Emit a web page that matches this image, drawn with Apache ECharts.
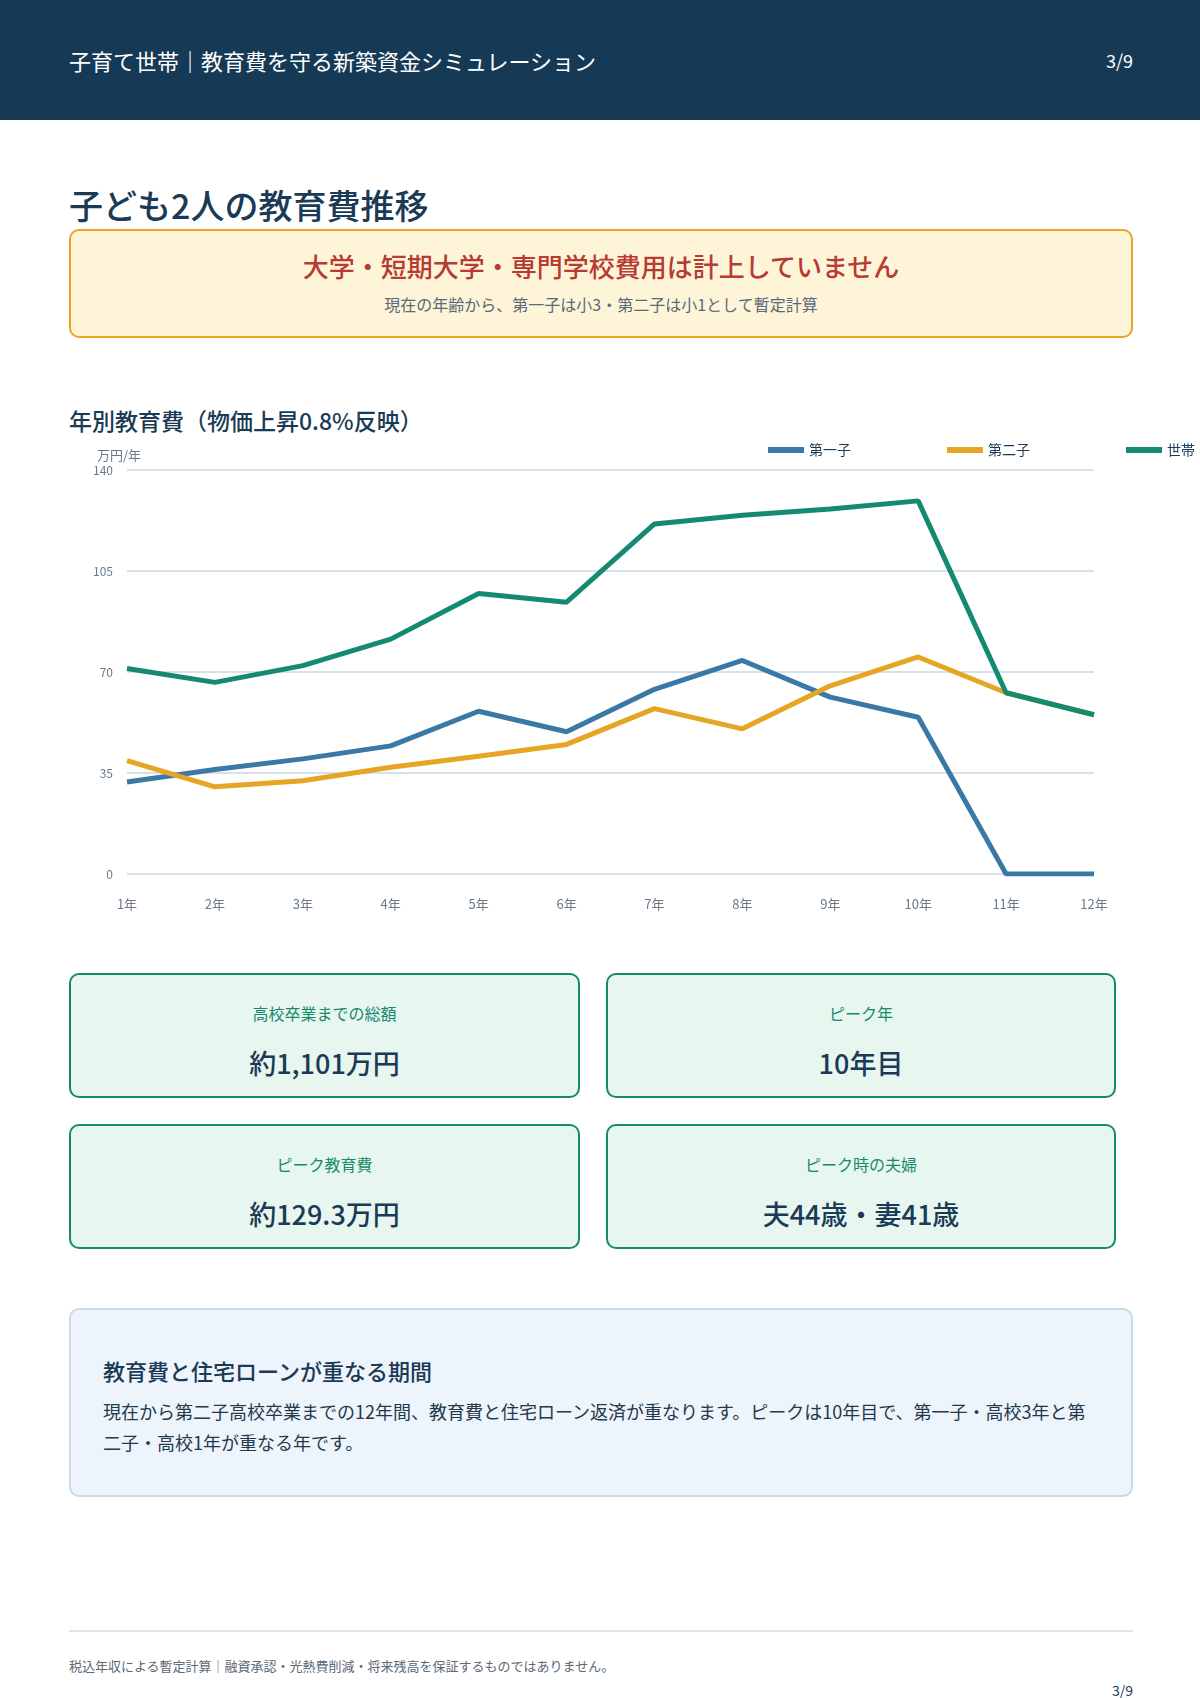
<!DOCTYPE html>
<html><head><meta charset="utf-8">
<script src="https://cdn.jsdelivr.net/npm/echarts@6/dist/echarts.min.js"></script>
<style>
body{margin:0;width:1200px;height:1698px;position:relative;font-family:"Noto Sans CJK JP","Noto Sans",sans-serif;background:#fff;color:#1a3a55;overflow:hidden}
.abs{position:absolute}
.hdr{left:0;top:0;width:1200px;height:120px;background:#163a56;color:#fff}
.card{border:2px solid #168a6e;background:#e8f6f0;border-radius:10px;box-sizing:border-box;text-align:center}
.card .l{color:#168a6e;font-size:16px;margin-top:26px}
.card .v{font-size:27px;margin-top:18px;color:#1a3a55;font-weight:500}
</style></head><body>
<div class="abs hdr">
  <div class="abs" style="left:69px;top:44px;font-size:22px">子育て世帯｜教育費を守る新築資金シミュレーション</div>
  <div class="abs" style="right:67px;top:47px;font-size:18px">3/9</div>
</div>
<div class="abs" style="left:69px;top:180px;font-size:34px;font-weight:500">子ども2人の教育費推移</div>
<div class="abs" style="left:69px;top:229px;width:1064px;height:109px;box-sizing:border-box;border:2px solid #e8a623;background:#fef4d8;border-radius:10px;text-align:center">
  <div style="color:#b83a32;font-size:26px;margin-top:16px;font-weight:500">大学・短期大学・専門学校費用は計上していません</div>
  <div style="color:#5a6a78;font-size:16px;margin-top:8px">現在の年齢から、第一子は小3・第二子は小1として暫定計算</div>
</div>
<div class="abs" style="left:69px;top:403px;font-size:23px;font-weight:500">年別教育費（物価上昇0.8%反映）</div>
<div id="chart" class="abs" style="left:0;top:430px;width:1200px;height:500px"></div>
<div class="abs card" style="left:69px;top:973px;width:511px;height:125px"><div class="l">高校卒業までの総額</div><div class="v">約1,101万円</div></div>
<div class="abs card" style="left:606px;top:973px;width:510px;height:125px"><div class="l">ピーク年</div><div class="v">10年目</div></div>
<div class="abs card" style="left:69px;top:1124px;width:511px;height:125px"><div class="l">ピーク教育費</div><div class="v">約129.3万円</div></div>
<div class="abs card" style="left:606px;top:1124px;width:510px;height:125px"><div class="l">ピーク時の夫婦</div><div class="v">夫44歳・妻41歳</div></div>
<div class="abs" style="left:69px;top:1308px;width:1064px;height:189px;box-sizing:border-box;border:2px solid #c7dbe6;background:#edf4fb;border-radius:10px;padding:44px 30px 0 32px">
  <div style="font-size:22px;font-weight:500">教育費と住宅ローンが重なる期間</div>
  <div style="font-size:18px;line-height:31px;margin-top:10px;color:#23384c">現在から第二子高校卒業までの12年間、教育費と住宅ローン返済が重なります。ピークは10年目で、第一子・高校3年と第二子・高校1年が重なる年です。</div>
</div>
<div class="abs" style="left:69px;top:1630px;width:1064px;height:2px;background:#dde5ea"></div>
<div class="abs" style="left:69px;top:1656px;font-size:13px;color:#5a6a78">税込年収による暫定計算｜融資承認・光熱費削減・将来残高を保証するものではありません。</div>
<div class="abs" style="right:67px;top:1680px;font-size:14px;color:#1a3a55">3/9</div>
<script>
var years = ['1年','2年','3年','4年','5年','6年','7年','8年','9年','10年','11年','12年'];
var child1 = [31.9,36.2,39.9,44.4,56.4,49.3,64.0,74.0,61.3,54.3,0,0];
var child2 = [39.3,30.2,32.3,37.0,40.8,44.9,57.3,50.3,65.2,75.2,62.8,55.2];
var household = [71.2,66.4,72.2,81.4,97.2,94.2,121.3,124.3,126.5,129.3,62.8,55.2];
var chart = echarts.init(document.getElementById('chart'));
function line(name, data, color) {
  return {name: name, type: 'line', data: data, symbol: 'none', lineStyle: {width: 5, color: color}, itemStyle: {color: color}};
}
chart.setOption({
  textStyle: {fontFamily: 'Noto Sans CJK JP'},
  legend: {right: 0, top: 8, itemWidth: 36, itemHeight: 6, itemGap: 96, icon: 'rect',
    textStyle: {fontSize: 14, color: '#1a3a55'}},
  grid: {left: 127, right: 106, top: 40, bottom: 56},
  xAxis: {type: 'category', data: years, boundaryGap: false,
    axisLine: {show: false}, axisTick: {show: false},
    axisLabel: {color: '#6a7a88', fontSize: 13, margin: 24}},
  yAxis: {type: 'value', min: 0, max: 140, interval: 35, name: '万円/年',
    nameLocation: 'end', nameGap: 8, nameTextStyle: {color: '#6a7a88', fontSize: 13, align: 'right', padding: [0, -14, 0, 0]},
    axisLabel: {color: '#6a7a88', fontSize: 12, margin: 14},
    splitLine: {lineStyle: {color: '#d6e2ea', width: 2}}},
  series: [line('第一子', child1, '#3a78a6'), line('第二子', child2, '#e6a524'), line('世帯', household, '#158a72')]
});
</script>
</body></html>
